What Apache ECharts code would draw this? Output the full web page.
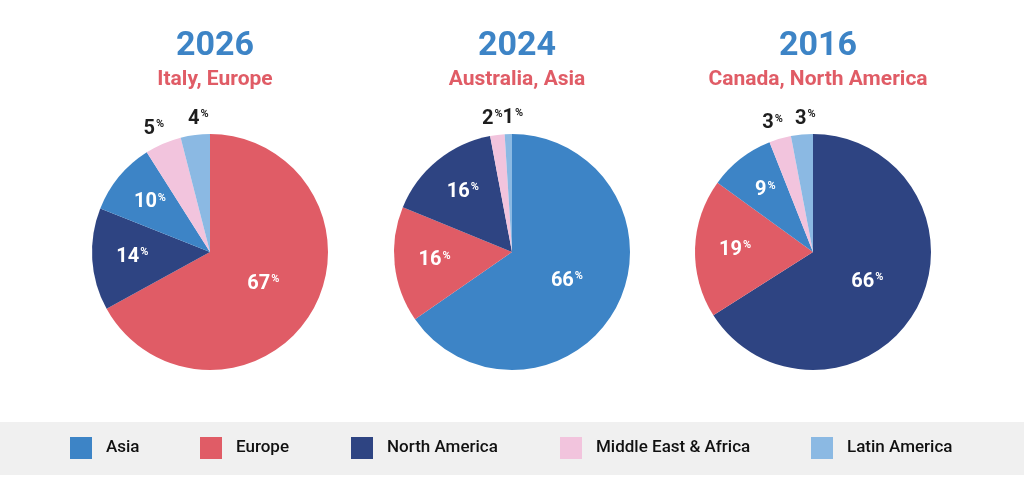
<!DOCTYPE html>
<html>
<head>
<meta charset="utf-8">
<script src="https://cdn.jsdelivr.net/npm/echarts@6/dist/echarts.min.js"></script>
<style>
html,body{margin:0;padding:0;background:#fff;}
#chart{width:1024px;height:501px;}
</style>
</head>
<body>
<div id="chart"></div>
<script>
// ---- data ----
var regions = ['Asia', 'Europe', 'North America', 'Middle East & Africa', 'Latin America'];
var regionColors = ['#3d84c6', '#e05c66', '#2e4482', '#f2c4dd', '#8bb9e3'];
var years = ['2026', '2024', '2016'];
var hosts = ['Italy, Europe', 'Australia, Asia', 'Canada, North America'];
// slice order (clockwise from 12 o'clock) and values per pie
var order2026 = ['Europe', 'North America', 'Asia', 'Middle East & Africa', 'Latin America'];
var values2026 = [67, 14, 10, 5, 4];
var order2024 = ['Asia', 'Europe', 'North America', 'Middle East & Africa', 'Latin America'];
var values2024 = [66, 16, 16, 2, 1];
var order2016 = ['North America', 'Europe', 'Asia', 'Middle East & Africa', 'Latin America'];
var values2016 = [66, 19, 9, 3, 3];

var orders = [order2026, order2024, order2016];
var valuesAll = [values2026, values2024, values2016];
var centersX = [210, 512, 813];
var centerY = 252;
var R = 118;

var FONT = 'Roboto, "DejaVu Sans", sans-serif';
// small horizontal nudge per region for the outside labels (keeps neighbours apart)
var smallLabelNudge = { 'Middle East & Africa': -3, 'Latin America': 5 };

function colorOf(name) { return regionColors[regions.indexOf(name)]; }

function richLabel(color) {
  return {
    n: { fontFamily: FONT, fontWeight: 'bold', fontSize: 20, color: color },
    p: { fontFamily: FONT, fontWeight: 'bold', fontSize: 11, color: color, verticalAlign: 'top', padding: [0, 0, 8, 1] }
  };
}

function fmt(p) { return '{n|' + p.value + '}{p|%}'; }

// build data for pie i; labels shown only for values in [lo, hi)
function buildData(i, lo, hi, transparent) {
  return orders[i].map(function (n, k) {
    var v = valuesAll[i][k];
    return {
      name: n, value: v,
      itemStyle: { color: transparent ? 'rgba(0,0,0,0)' : colorOf(n) },
      label: { show: v >= lo && v < hi }
    };
  });
}

function makeNudge(i) {
  return function (params) {
    var name = orders[i][params.dataIndex];
    return { dx: smallLabelNudge[name] || 0, hideOverlap: false };
  };
}

var series = [];
var titles = [];
for (var i = 0; i < 3; i++) {
  titles.push({
    text: years[i],
    subtext: hosts[i],
    left: centersX[i],
    top: 24,
    textAlign: 'center',
    itemGap: 6,
    textStyle: { fontFamily: FONT, fontWeight: 'bold', fontSize: 34, color: '#3d84c6' },
    subtextStyle: { fontFamily: FONT, fontWeight: 'bold', fontSize: 21, color: '#e05c66' }
  });
  // main visible pie, big-slice label
  series.push({
    type: 'pie', name: years[i] + ' main',
    center: [centersX[i], centerY], radius: [0, R],
    startAngle: 90, clockwise: true,
    data: buildData(i, 30, 1000, false),
    label: { show: true, position: 'inside', formatter: fmt, rich: richLabel('#ffffff') },
    labelLine: { show: false },
    emphasis: { scale: false },
    animation: false
  });
  // overlay for medium slices (labels farther out)
  series.push({
    type: 'pie', name: years[i] + ' mid', silent: true,
    center: [centersX[i], centerY], radius: [0, R * 1.27],
    startAngle: 90, clockwise: true,
    data: buildData(i, 6, 30, true),
    label: { show: true, position: 'inside', formatter: fmt, rich: richLabel('#ffffff') },
    labelLine: { show: false },
    emphasis: { disabled: true },
    z: 3,
    animation: false
  });
  // overlay for small slices (labels outside the pie)
  series.push({
    type: 'pie', name: years[i] + ' small', silent: true,
    center: [centersX[i], centerY], radius: [0, R * 2.22],
    startAngle: 90, clockwise: true,
    data: buildData(i, 0, 6, true),
    label: { show: true, position: 'inside', formatter: fmt, rich: richLabel('#1e1e1e') },
    labelLine: { show: false },
    labelLayout: makeNudge(i),
    emphasis: { disabled: true },
    z: 3,
    animation: false
  });
}

var legendLefts = [70, 200, 351, 560, 811];
var legends = regions.map(function (r, k) {
  return {
    data: [{ name: r, itemStyle: { color: regionColors[k] } }],
    left: legendLefts[k],
    top: 437,
    orient: 'horizontal',
    icon: 'rect',
    itemWidth: 22,
    itemHeight: 22,
    itemGap: 0,
    padding: 0,
    selectedMode: false,
    textStyle: { fontFamily: FONT, fontWeight: 500, fontSize: 17, color: '#111', padding: [0, 0, 0, 9] }
  };
});

var chart = echarts.init(document.getElementById('chart'), null, { renderer: 'canvas' });
chart.setOption({
  backgroundColor: '#ffffff',
  animation: false,
  title: titles,
  legend: legends,
  graphic: [{
    type: 'rect', z: -10, silent: true,
    shape: { x: 0, y: 422, width: 1024, height: 53 },
    style: { fill: '#f0f0f0' }
  }],
  series: series
});
</script>
</body>
</html>
